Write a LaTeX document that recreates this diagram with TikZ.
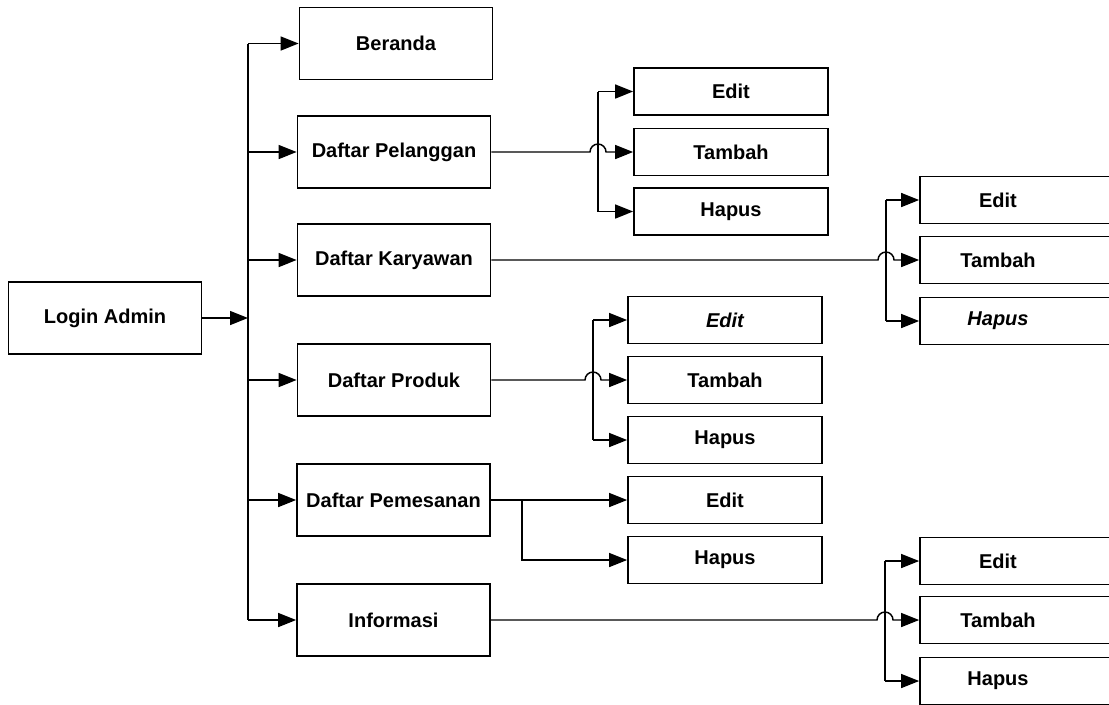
\documentclass[tikz,border=0pt]{standalone}
\usepackage{fontspec}
\setmainfont{Liberation Sans}
\usetikzlibrary{arrows.meta,calc}
\begin{document}
\begin{tikzpicture}[x=0.75pt,y=-0.75pt,
  every node/.style={font=\fontsize{15}{17}\selectfont\bfseries},
  box/.style={draw,line width=1.3pt,rectangle,inner sep=0pt,minimum width=144.75pt,minimum height=54pt},
  sub/.style={draw,line width=1.3pt,rectangle,inner sep=0pt,minimum width=145.5pt,minimum height=35.25pt},
  cut/.style={sub,minimum width=142.5pt,execute at end node={\hspace{25.5pt}}},
  link/.style={line width=1.1pt},
  arr/.style={link,-{Triangle[length=13.5pt,width=10.5pt]}}]
\useasboundingbox (0,0) rectangle (1109,704);
\clip (0,0) rectangle (1109,704);

% main menu
\node[box] (login) at (105,318) {Login Admin};
\node[box] (ber) at (396,43.5) {Beranda};
\node[box] (pel) at (394,152) {Daftar Pelanggan};
\node[box] (kar) at (394,260) {Daftar Karyawan};
\node[box] (pro) at (394,380) {Daftar Produk};
\node[box] (pem) at (393.5,500) {Daftar Pemesanan};
\node[box] (inf) at (393.5,620) {Informasi};

% sub menus
\node[sub] (pe) at (731,91.5) {Edit};
\node[sub] (pt) at (731,152) {Tambah};
\node[sub] (ph) at (731,211.5) {Hapus};

\node[cut] (ke) at (1015,200) {Edit};
\node[cut] (kt) at (1015,260) {Tambah};
\node[cut] (kh) at (1015,321) {\itshape Hapus};

\node[sub] (re) at (725,320) {\itshape Edit};
\node[sub] (rt) at (725,380) {Tambah};
\node[sub] (rh) at (725,440) {Hapus};

\node[sub] (me) at (725,500) {Edit};
\node[sub] (mh) at (725,560) {Hapus};

\node[cut] (ie) at (1015,561) {Edit};
\node[cut] (it) at (1015,620) {Tambah};
\node[cut] (ih) at (1015,681) {Hapus};

% trunk
\coordinate (trunk) at (248,0);
\draw[arr] (login.east) -- (trunk |- login.east);
\draw[link] (trunk |- ber.west) -- (trunk |- inf.west);
\foreach \n in {ber,pel,kar,pro,pem,inf}
  \draw[arr] (trunk |- \n.west) -- (\n.west);

% branches with a hop over the vertical line
\foreach \src/\bx/\e/\t/\h in {pel/598/pe/pt/ph, kar/886/ke/kt/kh, pro/593/re/rt/rh, inf/885/ie/it/ih}{
  \coordinate (b) at (\bx,0);
  \draw[arr] (\src.east) -- ($(b |- \src.east)+(-8,0)$)
    arc[start angle=180,end angle=360,radius=8] -- (\t.west);
  \draw[link] (b |- \e.west) -- (b |- \h.west);
  \draw[arr] (b |- \e.west) -- (\e.west);
  \draw[arr] (b |- \h.west) -- (\h.west);
}

% order branch
\coordinate (bpem) at (522,500);
\draw[arr] (pem.east) -- (me.west);
\draw[arr] (bpem) -- (bpem |- mh.west) -- (mh.west);
\end{tikzpicture}
\end{document}
